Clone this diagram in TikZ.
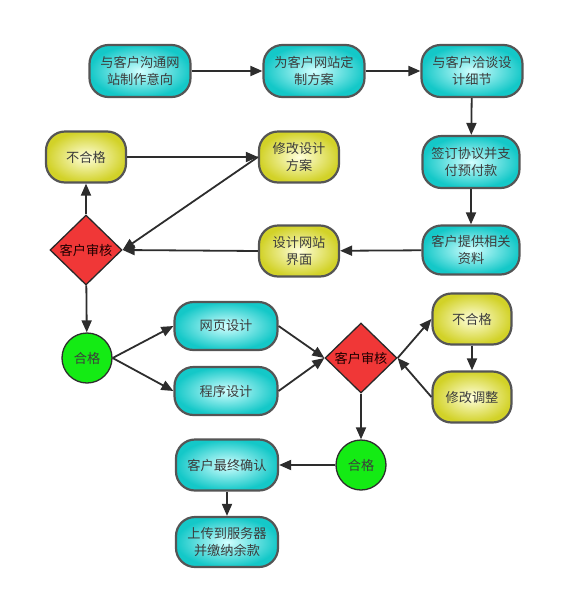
\documentclass[tikz,border=0pt]{standalone}
\usepackage{fontspec}
\setmainfont{Noto Sans CJK SC}
\usetikzlibrary{shapes.geometric,arrows.meta}
\definecolor{cyanout}{RGB}{20,200,200}
\definecolor{cyanin}{RGB}{210,255,255}
\definecolor{yelout}{RGB}{210,210,40}
\definecolor{yelin}{RGB}{255,255,220}
\definecolor{redfill}{RGB}{240,55,55}
\definecolor{greenfill}{RGB}{20,235,20}
\definecolor{bordergray}{RGB}{85,85,85}
\definecolor{txt}{RGB}{60,60,60}
\definecolor{arr}{RGB}{45,45,45}
\tikzset{
  base/.style={font=\fontsize{13.2}{16.5}\selectfont, text=txt, align=center, inner sep=0pt},
  cbox/.style={base, draw=bordergray, line width=2.2pt, rounded corners=19pt,
    inner color=cyanin, outer color=cyanout, minimum width=101pt, minimum height=52pt},
  ybox/.style={base, draw=bordergray, line width=2.2pt, rounded corners=19pt,
    inner color=yelin, outer color=yelout, minimum width=79pt, minimum height=51pt},
  dia/.style={base, diamond, aspect=1, draw=arr!90!black, line width=1.3pt, fill=redfill,
    minimum width=72pt, minimum height=70pt, text=black!70!red!40!black},
  okc/.style={base, circle, draw=arr, line width=1.3pt, fill=greenfill, minimum size=50pt, text=txt},
  conn/.style={draw=arr, line width=1.8pt, -{Triangle[length=12pt,width=10pt]}}
}
\begin{document}
\begin{tikzpicture}[x=1pt,y=-1pt]
\useasboundingbox (0,0) rectangle (561,606);
\node[cbox] (a) at (140,71) {与客户沟通网\\站制作意向};
\node[cbox] (b) at (314,71) {为客户网站定\\制方案};
\node[cbox] (c) at (472,71) {与客户洽谈设\\计细节};
\node[cbox, minimum width=97pt] (d) at (471,162) {签订协议并支\\付预付款};
\node[cbox, minimum width=97pt, minimum height=49pt] (e) at (471,250) {客户提供相关\\资料};
\node[ybox, minimum width=80pt] (f) at (299,251) {设计网站\\界面};
\node[ybox, minimum width=80pt] (g) at (299,157) {修改设计\\方案};
\node[ybox, minimum width=80pt] (h) at (86,157) {不合格};
\node[dia] (r1) at (86,250) {客户审核};
\node[okc] (k1) at (87,358) {合格};
\node[cbox, minimum width=103pt, minimum height=48pt] (w) at (226,326) {网页设计};
\node[cbox, minimum width=103pt, minimum height=48pt] (p) at (226,391) {程序设计};
\node[dia] (r2) at (361,358) {客户审核};
\node[ybox] (h2) at (472,319) {不合格};
\node[ybox] (m2) at (472,397) {修改调整};
\node[okc] (k2) at (361,465) {合格};
\node[cbox, minimum width=102pt, minimum height=51pt] (fin) at (227,465) {客户最终确认};
\node[cbox, minimum width=102pt, minimum height=50pt] (up) at (227,542) {上传到服务器\\并缴纳余款};

\draw[conn] (a) -- (b);
\draw[conn] (b) -- (c);
\draw[conn] (c) -- (d);
\draw[conn] (d) -- (e);
\draw[conn] (e) -- (f);
\draw[conn] (f.west) -- (r1.east);
\draw[conn] (g.west) -- (r1.east);
\draw[conn] (h) -- (g);
\draw[conn] (r1) -- (h);
\draw[conn] (r1) -- (k1);
\draw[conn] (k1.east) -- (w.west);
\draw[conn] (k1.east) -- (p.west);
\draw[conn] (w.east) -- (r2.west);
\draw[conn] (p.east) -- (r2.west);
\draw[conn] (r2.east) -- (h2.west);
\draw[conn] (h2) -- (m2);
\draw[conn] (m2.west) -- (r2.east);
\draw[conn] (r2) -- (k2);
\draw[conn] (k2) -- (fin);
\draw[conn] (fin) -- (up);
\end{tikzpicture}
\end{document}
